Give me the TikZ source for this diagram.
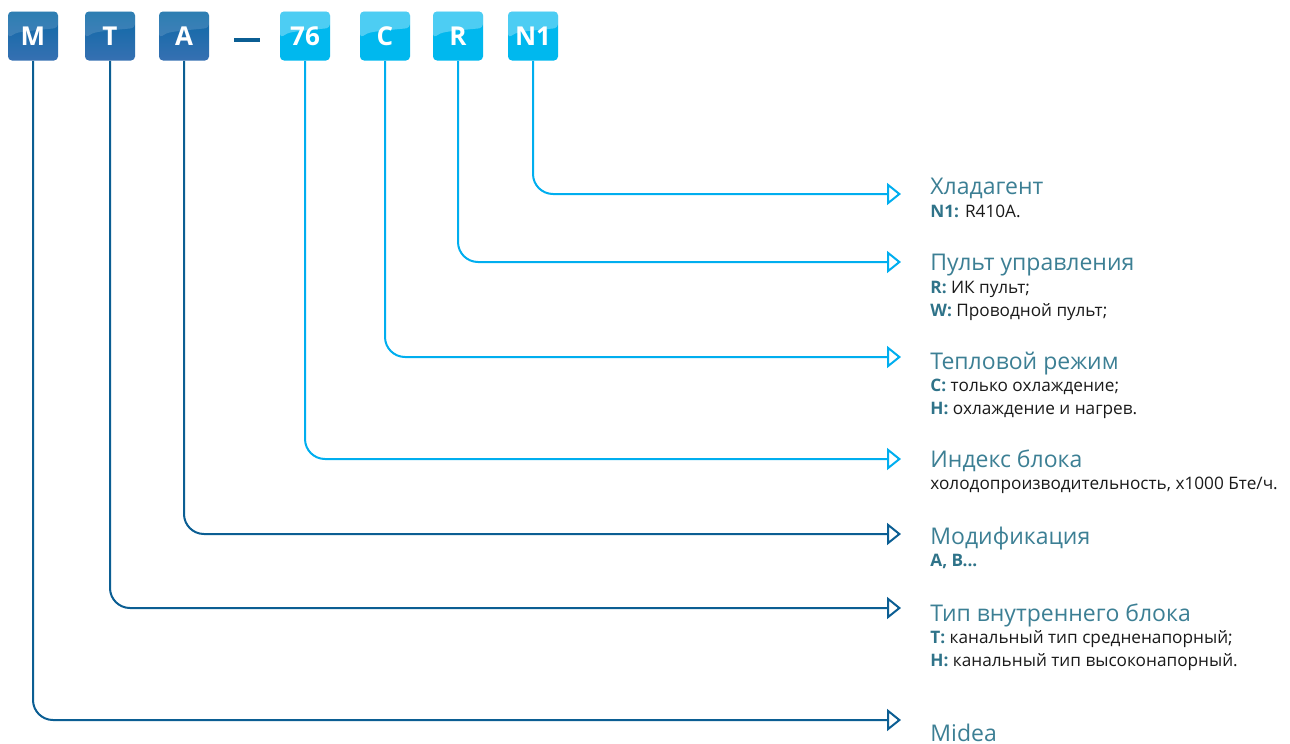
\documentclass[tikz,border=0pt]{standalone}
\usepackage{fontspec}
\setmainfont{Open Sans}
\usetikzlibrary{arrows.meta,positioning,calc}

\definecolor{dkblue}{HTML}{0B5E93}
\definecolor{dkbox}{HTML}{3670B2}
\definecolor{dkboxtop}{HTML}{0B69A6}
\definecolor{ltblue}{HTML}{00AEEF}
\definecolor{ltbox}{HTML}{00B8EE}
\definecolor{ttlcol}{HTML}{3C7F94}
\definecolor{keycol}{HTML}{2F7389}
\definecolor{txtcol}{HTML}{1A1A1A}

\newcommand{\keyw}[1]{{\bfseries\color{keycol}#1}}

\tikzset{
  letterbox/.style={minimum width=25pt, minimum height=24.5pt, rounded corners=2pt,
    inner sep=0pt, text=white, font=\fontsize{13}{13}\selectfont\bfseries},
  dkletter/.style={letterbox, top color=dkboxtop, bottom color=dkbox,
    path picture={\fill[white, opacity=0.14]
      (path picture bounding box.north west) -- (path picture bounding box.north east)
      -- ([yshift=4pt]path picture bounding box.east)
      .. controls ([xshift=-8pt,yshift=2pt]path picture bounding box.center) .. ([yshift=-1pt]path picture bounding box.west) -- cycle;}},
  ltletter/.style={letterbox, fill=ltbox,
    path picture={\fill[white, opacity=0.30]
      (path picture bounding box.north west) -- (path picture bounding box.north east)
      -- ([yshift=4pt]path picture bounding box.east)
      .. controls ([xshift=-8pt,yshift=2pt]path picture bounding box.center) .. ([yshift=-1pt]path picture bounding box.west) -- cycle;}},
  dkline/.style={draw=dkblue, line width=1pt, rounded corners=10pt,
    -{Triangle[open, length=7pt, width=11pt]}},
  ltline/.style={dkline, draw=ltblue},
  ttl/.style={anchor=base west, inner sep=0pt, text=ttlcol,
    font=\fontsize{11.5}{11.5}\selectfont},
  sub/.style={anchor=base west, inner sep=0pt, text=txtcol, align=left,
    font=\fontsize{8.6}{11.5}\selectfont},
}

\begin{document}
\begin{tikzpicture}[x=0.5pt, y=-0.5pt]
  \useasboundingbox (0,0) rectangle (1290,744);
  % code letters
  \node[dkletter] (bM)  at (33,36)  {M};
  \node[dkletter] (bT)  at (110,36) {T};
  \node[dkletter] (bA)  at (184,36) {A};
  \node[fill=dkblue, minimum width=13pt, minimum height=2pt, inner sep=0pt] (dash) at (247,40) {};
  \node[ltletter] (b76) at (305,36) {76};
  \node[ltletter] (bC)  at (385,36) {C};
  \node[ltletter] (bR)  at (458,36) {R};
  \node[ltletter] (bN1) at (533,36) {N1};
  % arrow ends
  \coordinate (eN1) at (901,194);
  \coordinate (eR)  at (901,262);
  \coordinate (eC)  at (901,357);
  \coordinate (e76) at (901,459);
  \coordinate (eA)  at (901,534);
  \coordinate (eT)  at (901,608);
  \coordinate (eM)  at (901,720);
  % connectors
  \draw[ltline] (bN1.south) |- (eN1);
  \draw[ltline] (bR.south)  |- (eR);
  \draw[ltline] (bC.south)  |- (eC);
  \draw[ltline] (b76.south) |- (e76);
  \draw[dkline] (bA.south)  |- (eA);
  \draw[dkline] (bT.south)  |- (eT);
  \draw[dkline] (bM.south)  |- (eM);
  % descriptions (two-line notes sit on their last baseline)
  \node[ttl] (tN1) at (930,194) {Хладагент};
  \node[sub] (sN1) at (930,217) {\keyw{N1:} R410A.};
  \node[ttl] (tR)  at (930,270) {Пульт управления};
  \node[sub] (sR)  at (930,316) {\keyw{R:} ИК пульт;\\\keyw{W:} Проводной пульт;};
  \node[ttl] (tC)  at (930,369) {Тепловой режим};
  \node[sub] (sC)  at (930,414) {\keyw{C:} только охлаждение;\\\keyw{H:} охлаждение и нагрев.};
  \node[ttl] (t76) at (930,467) {Индекс блока};
  \node[sub] (s76) at (930,489) {холодопроизводительность, x1000 Бте/ч.};
  \node[ttl] (tA)  at (930,544) {Модификация};
  \node[sub] (sA)  at (930,566) {\keyw{A, B...}};
  \node[ttl] (tT)  at (930,621) {Тип внутреннего блока};
  \node[sub] (sT)  at (930,666) {\keyw{T:} канальный тип средненапорный;\\\keyw{H:} канальный тип высоконапорный.};
  \node[ttl] (tM)  at (930,741) {Midea};
\end{tikzpicture}
\end{document}
